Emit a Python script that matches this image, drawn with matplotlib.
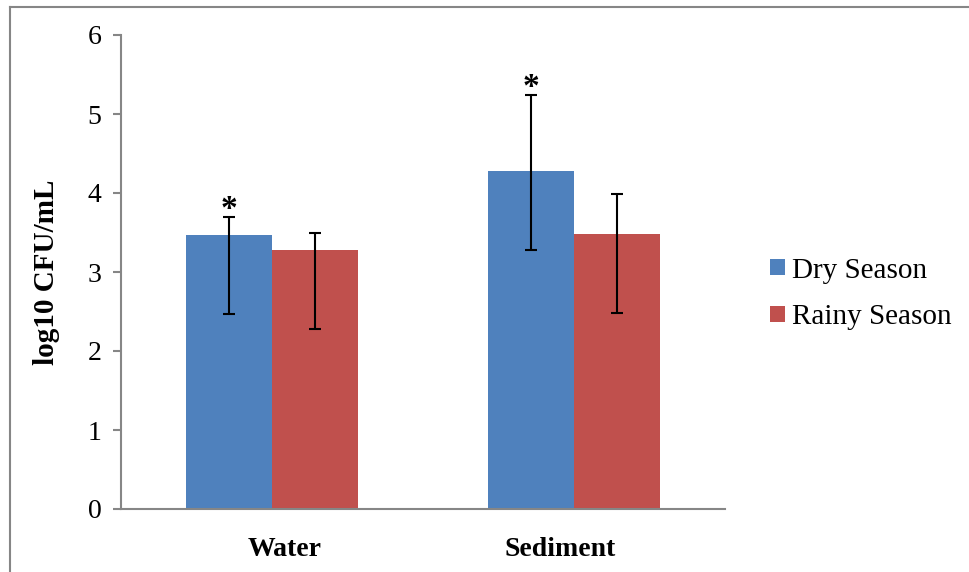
import matplotlib
matplotlib.use("Agg")
import matplotlib.pyplot as plt
import matplotlib.transforms as mtransforms
import numpy as np
from matplotlib.lines import Line2D

categories = ["Water", "Sediment"]
series_names = ["Dry Season", "Rainy Season"]
dry = [3.47, 4.28]
rainy = [3.28, 3.48]
dry_err_low = [1.00, 1.00]
dry_err_high = [0.23, 0.96]
rainy_err_low = [1.00, 1.00]
rainy_err_high = [0.22, 0.51]
colors = ["#4F81BD", "#C0504D"]
yticks = [0, 1, 2, 3, 4, 5, 6]

plt.rcParams['font.family'] = ['Liberation Serif', 'DejaVu Serif']

fig = plt.figure(figsize=(9.69, 5.72), dpi=100)
ax = fig.add_axes([121/969, 1 - 509/572, 604/969, (509-35)/572])

x = np.arange(len(categories))
w = 0.285
ekw = dict(ecolor='black', elinewidth=1.5, capthick=1.5)
ax.bar(x - w/2, dry, w, color=colors[0], label=series_names[0],
       yerr=[dry_err_low, dry_err_high], capsize=4.5, error_kw=ekw)
ax.bar(x + w/2, rainy, w, color=colors[1], label=series_names[1],
       yerr=[rainy_err_low, rainy_err_high], capsize=4.5, error_kw=ekw)

for xi, v, e in zip(x - w/2, dry, dry_err_high):
    ax.text(xi, v + e - 0.1, "*", ha='center', va='bottom', fontsize=24, fontweight='bold')

ax.set_xlim(-0.5, 1.5)
ax.set_ylim(0, 6)
ax.set_yticks(yticks)
ax.set_xticks(x)
ax.set_xticklabels(categories, fontsize=20, fontweight='bold')
ax.tick_params(axis='x', length=0, pad=20)
ax.tick_params(axis='y', labelsize=20, length=6, width=1.5, color='#868686', pad=8)
offsets = [13, -14]
for lab, off in zip(ax.get_xticklabels(), offsets):
    lab.set_transform(lab.get_transform() +
                      mtransforms.ScaledTranslation(off/100, 0, fig.dpi_scale_trans))
for s in ['top', 'right']:
    ax.spines[s].set_visible(False)
for s in ['left', 'bottom']:
    ax.spines[s].set_color('#868686')
    ax.spines[s].set_linewidth(1.5)
ax.set_ylabel("log10 CFU/mL", fontsize=21, fontweight='bold', labelpad=20)

ax.legend(loc='center left', bbox_to_anchor=(747/969, 1 - 294/572),
          bbox_transform=fig.transFigure, frameon=False, fontsize=21,
          handlelength=0.5, handleheight=0.5, handletextpad=0.25,
          labelspacing=0.72, borderpad=0.3)

fig.lines.append(Line2D([10/969, 10/969], [0, 1 - 7/572], transform=fig.transFigure,
                        color='#868686', linewidth=1.5))
fig.lines.append(Line2D([10/969, 1], [1 - 7/572, 1 - 7/572], transform=fig.transFigure,
                        color='#868686', linewidth=1.5))

fig.savefig("out.png", dpi=100)
